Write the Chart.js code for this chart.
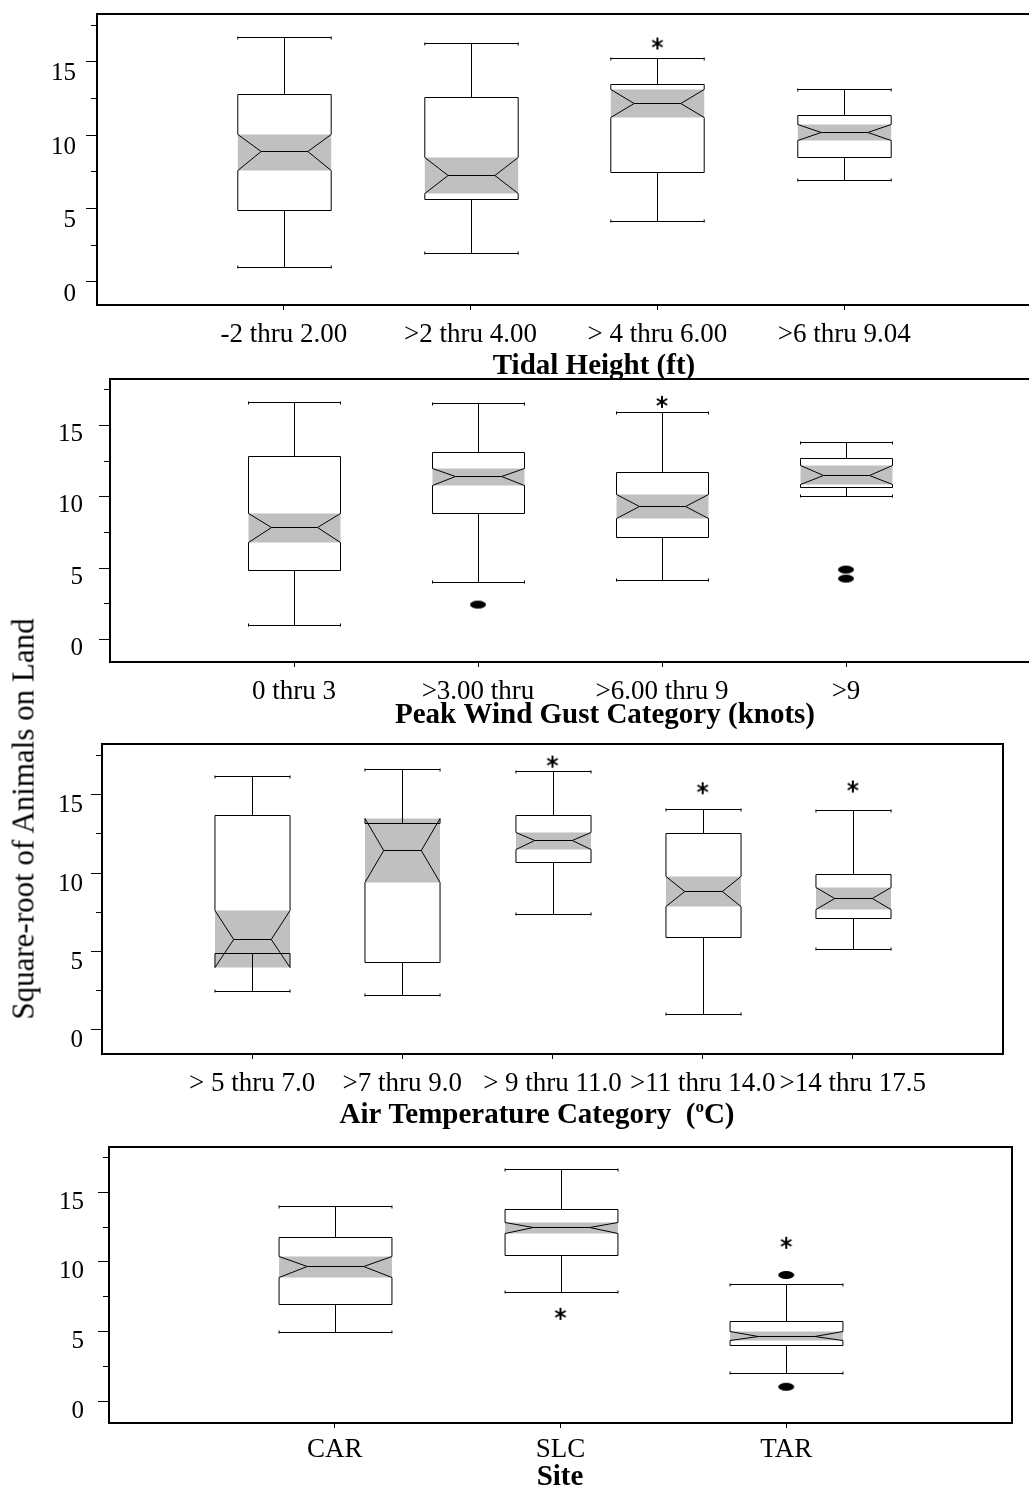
<!DOCTYPE html>
<html>
<head>
<meta charset="utf-8">
<script src="https://cdn.jsdelivr.net/npm/chart.js@4.4.1/dist/chart.umd.min.js"></script>
<style>
  html, body { margin: 0; padding: 0; background: #fff; overflow: hidden; }
  #page { position: relative; width: 1029px; height: 1500px; overflow: hidden; }
  #page canvas { position: absolute; left: 0; }
  #ytitle {
    position: absolute; left: 23px; top: 819px;
    transform: translate(-50%, -50%) rotate(-90deg);
    font: 31px 'Liberation Serif', 'Times New Roman', serif;
    line-height: 1; white-space: nowrap; color: #000;
  }
</style>
</head>
<body>
<div id="page">
  <canvas id="tide-chart" width="1040" height="385" style="top:0px"></canvas>
  <canvas id="wind-chart" width="1040" height="365" style="top:370px"></canvas>
  <canvas id="air-chart" width="1029" height="400" style="top:735px"></canvas>
  <canvas id="site-chart" width="1029" height="365" style="top:1135px"></canvas>
  <div id="ytitle">Square-root of Animals on Land</div>
</div>

<script>
/* ============================================= */
/* DATA */
/* ============================================= */

// shared y axis
const yMin = -1.57;
const yMax = 18.25;
const majorTicks = [0, 5, 10, 15];
const minorTicks = [2.5, 7.5, 12.5, 17.5];

// ---- Tidal height ----
const tideLabels = ["-2 thru 2.00", ">2 thru 4.00", "> 4 thru 6.00", ">6 thru 9.04"];
const tideHigh    = [16.7, 16.28, 15.26, 13.15];
const tideQ3      = [12.77, 12.61, 13.5, 11.4];
const tideNotchHi = [10.1, 8.48, 13.17, 10.75];
const tideMedian  = [8.89, 7.26, 12.22, 10.2];
const tideNotchLo = [7.62, 6.03, 11.25, 9.66];
const tideQ1      = [4.88, 5.62, 7.48, 8.5];
const tideLow     = [1.04, 1.99, 4.17, 6.92];
const tideStars   = [[3, 16.24]];
const tideDots    = [];

// ---- Peak wind gust ----
const windLabels = ["0 thru 3", ">3.00 thru", ">6.00 thru 9", ">9"];
const windHigh    = [16.65, 16.54, 15.93, 13.87];
const windQ3      = [12.85, 13.17, 11.77, 12.75];
const windNotchHi = [8.9, 12.05, 10.18, 12.21];
const windMedian  = [7.87, 11.44, 9.34, 11.56];
const windNotchLo = [6.82, 10.81, 8.52, 10.9];
const windQ1      = [4.9, 8.9, 7.17, 10.67];
const windLow     = [1.0, 4.02, 4.16, 10.04];
const windStars   = [[3, 16.65]];
const windDots    = [[2, 2.45], [4, 4.9], [4, 4.27]];

// ---- Air temperature ----
const airLabels = ["> 5 thru 7.0", ">7 thru 9.0", "> 9 thru 11.0", ">11 thru 14.0", ">14 thru 17.5"];
const airHigh    = [16.23, 16.66, 16.53, 14.08, 14.06];
const airQ3      = [13.7, 13.23, 13.68, 12.55, 9.94];
const airNotchHi = [7.66, 13.49, 12.62, 9.83, 9.08];
const airMedian  = [5.81, 11.47, 12.13, 8.85, 8.4];
const airNotchLo = [3.98, 9.4, 11.55, 7.87, 7.72];
const airQ1      = [4.89, 4.34, 10.68, 5.92, 7.13];
const airLow     = [2.45, 2.23, 7.4, 0.98, 5.17];
const airStars   = [[3, 17.12], [4, 15.42], [5, 15.53]];
const airDots    = [];

// ---- Site ----
const siteLabels = ["CAR", "SLC", "TAR"];
const siteHigh    = [14.02, 16.65, 8.44];
const siteQ3      = [11.8, 13.81, 5.79];
const siteNotchHi = [10.42, 12.83, 5.06];
const siteMedian  = [9.68, 12.47, 4.7];
const siteNotchLo = [8.92, 12.04, 4.41];
const siteQ1      = [6.99, 10.49, 4.01];
const siteLow     = [4.94, 7.83, 2.0];
const siteStars   = [[2, 6.27], [3, 11.37]];
const siteDots    = [[3, 9.06], [3, 1.03]];


/* ============================================= */
/* MARKERS */
/* ============================================= */

const FONT = "'Liberation Serif', 'Times New Roman', serif";
Chart.defaults.font.family = FONT;
Chart.defaults.color = "#000";

// asterisk outlier
const starImg = document.createElement("canvas");
starImg.width = 14; starImg.height = 14;
(function () {
  const g = starImg.getContext("2d");
  g.strokeStyle = "#000";
  g.lineWidth = 2;
  [90, 30, 150].forEach((a) => {
    const r = a * Math.PI / 180;
    g.beginPath();
    g.moveTo(7 - 6 * Math.cos(r), 7 - 6 * Math.sin(r));
    g.lineTo(7 + 6 * Math.cos(r), 7 + 6 * Math.sin(r));
    g.stroke();
  });
})();

// filled oval outlier
const dotImg = document.createElement("canvas");
dotImg.width = 18; dotImg.height = 10;
(function () {
  const g = dotImg.getContext("2d");
  g.fillStyle = "#000";
  g.beginPath();
  g.ellipse(9, 5, 8, 4, 0, 0, Math.PI * 2);
  g.fill();
})();


/* ============================================= */
/* NOTCHED BOX PLUGIN */
/* ============================================= */

const notchBoxes = {
  id: "notchBoxes",
  beforeDatasetsDraw(chart, args, opts) {
    const { ctx, scales: { x, y } } = chart;
    const half = (x.getPixelForValue(1) - x.getPixelForValue(0)) / 4;
    const py = (v) => Math.round(y.getPixelForValue(v)) + 0.5;

    ctx.save();
    ctx.lineWidth = 1;
    ctx.strokeStyle = "#000";
    opts.median.forEach((m, i) => {
      const cx = Math.round(x.getPixelForValue(i + 1)) + 0.5;
      const L = cx - half, R = cx + half;
      const Lm = cx - half / 2, Rm = cx + half / 2;
      const hi = py(opts.high[i]), q3 = py(opts.q3[i]), nh = py(opts.notchHi[i]);
      const md = py(m), nl = py(opts.notchLo[i]), q1 = py(opts.q1[i]), lo = py(opts.low[i]);

      const box = new Path2D();
      box.moveTo(L, q3); box.lineTo(R, q3); box.lineTo(R, nh);
      box.lineTo(Rm, md); box.lineTo(R, nl); box.lineTo(R, q1);
      box.lineTo(L, q1); box.lineTo(L, nl); box.lineTo(Lm, md);
      box.lineTo(L, nh); box.closePath();

      ctx.fillStyle = "#fff";
      ctx.fill(box);
      ctx.fillStyle = "#c0c0c0";
      ctx.fillRect(L, nh, R - L, nl - nh);
      ctx.stroke(box);

      ctx.beginPath();
      ctx.moveTo(Lm, md); ctx.lineTo(Rm, md);
      // whiskers and caps
      ctx.moveTo(cx, hi); ctx.lineTo(cx, q3);
      ctx.moveTo(cx, q1); ctx.lineTo(cx, lo);
      ctx.moveTo(L, hi); ctx.lineTo(R, hi);
      ctx.moveTo(L, lo); ctx.lineTo(R, lo);
      ctx.moveTo(L, hi - 1); ctx.lineTo(L, hi + 2);
      ctx.moveTo(R, hi - 1); ctx.lineTo(R, hi + 2);
      ctx.moveTo(L, lo - 2); ctx.lineTo(L, lo + 1);
      ctx.moveTo(R, lo - 2); ctx.lineTo(R, lo + 1);
      ctx.stroke();
    });
    ctx.restore();
  },
  afterDraw(chart, args, opts) {
    const { ctx, chartArea: a } = chart;
    ctx.save();
    // frame
    ctx.lineWidth = 2;
    ctx.strokeStyle = "#000";
    ctx.strokeRect(a.left, a.top, a.right - a.left, a.bottom - a.top);
    // axis title (bold, may have a superscript part)
    const t = opts.title;
    const big = "bold 29px " + FONT, small = "bold 17px " + FONT;
    let w = 0;
    t.parts.forEach((p) => { ctx.font = p.sup ? small : big; w += ctx.measureText(p.text).width; });
    let px = t.x - w / 2;
    ctx.fillStyle = "#000";
    ctx.textBaseline = "alphabetic";
    ctx.textAlign = "left";
    t.parts.forEach((p) => {
      ctx.font = p.sup ? small : big;
      ctx.fillText(p.text, px, p.sup ? t.y - 11 : t.y);
      px += ctx.measureText(p.text).width;
    });
    ctx.restore();
  },
};

// keep the chart area exactly where the layout padding puts it
const noAxisPadding = (s) => {
  s.paddingTop = 0; s.paddingBottom = 0; s.paddingLeft = 0; s.paddingRight = 0;
};


/* ============================================= */
/* PANELS */
/* ============================================= */

function makePanel(canvasId, labels, stats, stars, dots, cfg) {
  return new Chart(document.getElementById(canvasId), {
    type: "scatter",
    data: {
      datasets: [
        {
          data: stars.map(([c, v]) => ({ x: c, y: v })),
          pointStyle: starImg,
          pointRadius: 7,
          xAxisID: "x",
          yAxisID: "y",
        },
        {
          data: dots.map(([c, v]) => ({ x: c, y: v })),
          pointStyle: dotImg,
          pointRadius: 8,
          xAxisID: "x",
          yAxisID: "y",
        },
      ],
    },
    options: {
      responsive: false,
      animation: false,
      layout: { padding: { top: cfg.padTop, right: cfg.padRight, left: 0, bottom: 0 } },
      scales: {
        x: {
          type: "linear",
          min: 0,
          max: labels.length + 1,
          afterBuildTicks: (s) => { s.ticks = labels.map((l, i) => ({ value: i + 1 })); },
          afterFit: (s) => { s.height = cfg.xHeight; noAxisPadding(s); },
          ticks: {
            autoSkip: false,
            maxRotation: 0,
            minRotation: 0,
            padding: cfg.xPad,
            font: { size: 27 },
            color: "#000",
            callback: (v) => labels[v - 1] || "",
          },
          grid: { drawOnChartArea: false, tickLength: 5, color: "#000", lineWidth: 1 },
          border: { display: false },
        },
        y: {
          type: "linear",
          position: "left",
          weight: 1,
          min: yMin,
          max: yMax,
          afterBuildTicks: (s) => { s.ticks = majorTicks.map((v) => ({ value: v })); },
          afterFit: (s) => { s.width = cfg.yWidth; noAxisPadding(s); },
          ticks: { padding: cfg.yPad, labelOffset: cfg.yOffset, font: { size: 25 }, color: "#000" },
          grid: { drawOnChartArea: false, tickLength: 11, color: "#000", lineWidth: 1 },
          border: { display: false },
        },
        ym: {
          type: "linear",
          position: "left",
          weight: 0,
          min: yMin,
          max: yMax,
          afterBuildTicks: (s) => { s.ticks = minorTicks.map((v) => ({ value: v })); },
          afterFit: (s) => { s.width = 0; noAxisPadding(s); },
          ticks: { display: false },
          grid: { drawOnChartArea: false, tickLength: 6, color: "#000", lineWidth: 1 },
          border: { display: false },
        },
      },
      plugins: {
        legend: { display: false },
        tooltip: { enabled: false },
        notchBoxes: Object.assign({}, stats, { title: cfg.title }),
      },
    },
    plugins: [notchBoxes],
  });
}

let tideChart = makePanel("tide-chart", tideLabels,
  { high: tideHigh, q3: tideQ3, notchHi: tideNotchHi, median: tideMedian, notchLo: tideNotchLo, q1: tideQ1, low: tideLow },
  tideStars, tideDots,
  { padTop: 14, padRight: 9, yWidth: 97, xHeight: 80, yPad: 10, yOffset: 12, xPad: 9,
    title: { x: 594, y: 374, parts: [{ text: "Tidal Height (ft)" }] } });

let windChart = makePanel("wind-chart", windLabels,
  { high: windHigh, q3: windQ3, notchHi: windNotchHi, median: windMedian, notchLo: windNotchLo, q1: windQ1, low: windLow },
  windStars, windDots,
  { padTop: 9, padRight: 10, yWidth: 110, xHeight: 73, yPad: 16, yOffset: 9, xPad: 9,
    title: { x: 605, y: 353, parts: [{ text: "Peak Wind Gust Category (knots)" }] } });

let airChart = makePanel("air-chart", airLabels,
  { high: airHigh, q3: airQ3, notchHi: airNotchHi, median: airMedian, notchLo: airNotchLo, q1: airQ1, low: airLow },
  airStars, airDots,
  { padTop: 9, padRight: 26, yWidth: 102, xHeight: 81, yPad: 8, yOffset: 11, xPad: 9,
    title: { x: 537, y: 388, parts: [{ text: "Air Temperature Category  (" }, { text: "o", sup: true }, { text: "C)" }] } });

let siteChart = makePanel("site-chart", siteLabels,
  { high: siteHigh, q3: siteQ3, notchHi: siteNotchHi, median: siteMedian, notchLo: siteNotchLo, q1: siteQ1, low: siteLow },
  siteStars, siteDots,
  { padTop: 12, padRight: 17, yWidth: 109, xHeight: 77, yPad: 14, yOffset: 10, xPad: 6,
    title: { x: 560, y: 350, parts: [{ text: "Site" }] } });
</script>
</body>
</html>
